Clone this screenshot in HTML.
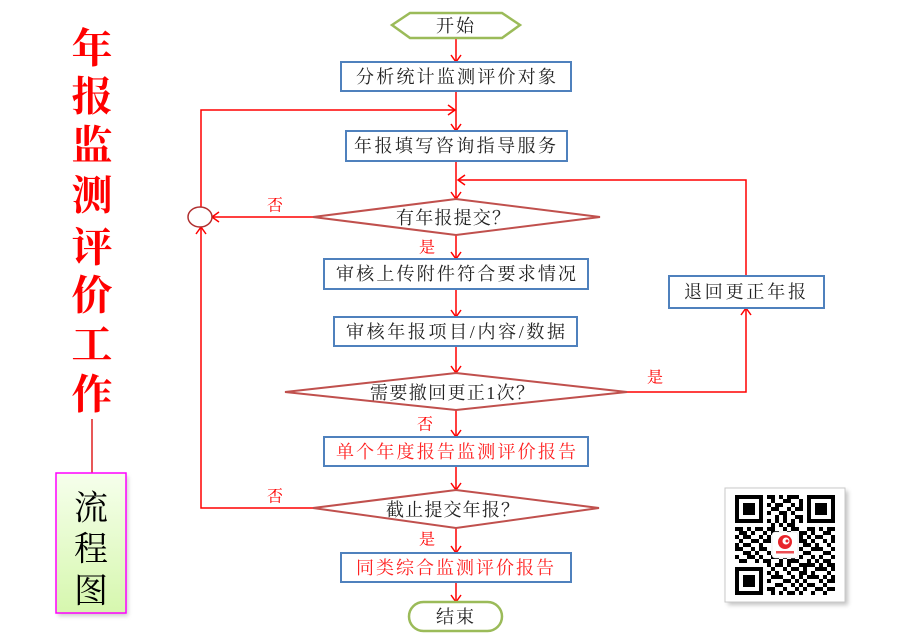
<!DOCTYPE html>
<html><head><meta charset="utf-8">
<style>
html,body{margin:0;padding:0;background:#fff;}
svg{display:block;}
.t{font-family:"Liberation Serif","Noto Serif CJK SC",serif;font-size:18px;fill:#222;}
.r{fill:#f22;}
.lb{font-family:"Liberation Serif","Noto Serif CJK SC",serif;font-size:16px;fill:#f00;}
.ttl{font-family:"Noto Serif CJK SC",serif;font-size:41px;font-weight:700;fill:#f00;}
.lc{fill:none;stroke:#f00;stroke-width:1.5;}
.bx{fill:#fff;stroke:#4f81bd;stroke-width:2;}
.dm{fill:#fff;stroke:#c0504d;stroke-width:2;}
.gr{fill:#fff;stroke:#9bbb59;stroke-width:2.5;}
</style></head>
<body>
<svg width="900" height="638" viewBox="0 0 900 638" xmlns="http://www.w3.org/2000/svg">
<defs>
<linearGradient id="g1" x1="0" y1="0" x2="0" y2="1">
<stop offset="0" stop-color="#f6ffec"/><stop offset="1" stop-color="#d6f7ae"/>
</linearGradient>
<filter id="sh" x="-20%" y="-20%" width="140%" height="140%"><feGaussianBlur stdDeviation="2"/></filter>
</defs>

<!-- Left title -->
<g text-anchor="middle" dominant-baseline="central" class="ttl">
<text x="92" y="45" class="ttl">年</text>
<text x="92" y="93" class="ttl">报</text>
<text x="92" y="142" class="ttl">监</text>
<text x="92" y="192" class="ttl">测</text>
<text x="92" y="244" class="ttl">评</text>
<text x="92" y="292" class="ttl">价</text>
<text x="92" y="341" class="ttl">工</text>
<text x="92" y="391" class="ttl">作</text>
</g>
<line x1="92" y1="419" x2="92" y2="473" stroke="#e02020" stroke-width="1.5"/>
<rect x="58" y="476" width="70" height="140" fill="#999" opacity="0.5" filter="url(#sh)"/>
<rect x="56" y="473" width="70" height="140" fill="url(#g1)" stroke="#ff00ff" stroke-width="1.5"/>
<g font-family="'Noto Serif CJK SC',serif" font-size="34" fill="#000" text-anchor="middle" dominant-baseline="central">
<text x="91" y="505">流</text>
<text x="91" y="546">程</text>
<text x="91" y="588">图</text>
</g>

<!-- Connectors -->
<g class="lc">
<line x1="456" y1="38" x2="456" y2="62"/><polyline points="451,55 456,62 461,55"/>
<line x1="456" y1="91" x2="456" y2="131"/><polyline points="451,124 456,131 461,124"/>
<polyline points="201,207 201,110 455,110"/><polyline points="448,105 455,110 448,115"/>
<line x1="456" y1="161" x2="456" y2="199"/><polyline points="451,192 456,199 461,192"/>
<polyline points="746,276 746,180 458,180"/><polyline points="465,175 458,180 465,185"/>
<line x1="313" y1="217" x2="212" y2="217"/><polyline points="219,212 212,217 219,222"/>
<polyline points="313,508 201,508 201,227"/><polyline points="196,234 201,227 206,234"/>
<line x1="456" y1="235" x2="456" y2="259"/><polyline points="451,252 456,259 461,252"/>
<line x1="456" y1="289" x2="456" y2="317"/><polyline points="451,310 456,317 461,310"/>
<line x1="456" y1="346" x2="456" y2="373"/><polyline points="451,366 456,373 461,366"/>
<polyline points="627,392 746,392 746,308"/><polyline points="741,315 746,308 751,315"/>
<line x1="456" y1="410" x2="456" y2="437"/><polyline points="451,430 456,437 461,430"/>
<line x1="456" y1="466" x2="456" y2="490"/><polyline points="451,483 456,490 461,483"/>
<line x1="456" y1="528" x2="456" y2="553"/><polyline points="451,546 456,553 461,546"/>
<line x1="456" y1="582" x2="456" y2="602"/><polyline points="451,595 456,602 461,595"/>
</g>
<ellipse cx="200" cy="217" rx="12" ry="10" fill="#fff" stroke="#b03030" stroke-width="1.5"/>

<!-- Shapes -->
<polygon class="gr" points="392,25 410,13 502,13 520,25 502,38 410,38"/>
<rect class="bx" x="341" y="62" width="230" height="29"/>
<rect class="bx" x="346" y="131" width="221" height="30"/>
<polygon class="dm" points="313,217 456,199 600,217 456,235"/>
<rect class="bx" x="324" y="259" width="264" height="30"/>
<rect class="bx" x="334" y="317" width="243" height="29"/>
<polygon class="dm" points="285,392 456,373 627,392 456,410"/>
<rect class="bx" x="669" y="276" width="155" height="32"/>
<rect class="bx" x="324" y="437" width="264" height="29"/>
<polygon class="dm" points="313,508 456,490 599,508 456,528"/>
<rect class="bx" x="341" y="553" width="230" height="29"/>
<rect class="gr" x="409" y="602" width="93" height="29" rx="14.5" ry="14.5"/>

<!-- Text -->
<g dominant-baseline="central">
<text class="t" x="436" y="26" textLength="38" lengthAdjust="spacing">开始</text>
<text class="t" x="356" y="77" textLength="200" lengthAdjust="spacing">分析统计监测评价对象</text>
<text class="t" x="354" y="146" textLength="202" lengthAdjust="spacing">年报填写咨询指导服务</text>
<text class="t" x="396" y="218" textLength="114" lengthAdjust="spacing">有年报提交？</text>
<text class="t" x="336" y="274" textLength="240" lengthAdjust="spacing">审核上传附件符合要求情况</text>
<text class="t" x="346" y="332" textLength="219" lengthAdjust="spacing">审核年报项目/内容/数据</text>
<text class="t" x="370" y="393" textLength="164" lengthAdjust="spacing">需要撤回更正1次？</text>
<text class="t" x="684" y="292" textLength="122" lengthAdjust="spacing">退回更正年报</text>
<text class="t r" x="336" y="452" textLength="240" lengthAdjust="spacing">单个年度报告监测评价报告</text>
<text class="t" x="386" y="510" textLength="133" lengthAdjust="spacing">截止提交年报？</text>
<text class="t r" x="356" y="568" textLength="198" lengthAdjust="spacing">同类综合监测评价报告</text>
<text class="t" x="436" y="617" textLength="38" lengthAdjust="spacing">结束</text>
</g>
<g text-anchor="middle" dominant-baseline="central" class="lb">
<text class="lb" x="275" y="206">否</text>
<text class="lb" x="427" y="248">是</text>
<text class="lb" x="655" y="378">是</text>
<text class="lb" x="425" y="425">否</text>
<text class="lb" x="275" y="497">否</text>
<text class="lb" x="427" y="540">是</text>
</g>

<!-- QR code -->
<rect x="728" y="491" width="120" height="114" fill="#888" opacity="0.5" filter="url(#sh)"/>
<rect x="725" y="488" width="120" height="114" fill="#fff" stroke="#c8c8c8" stroke-width="1"/>
<g transform="translate(735,495) scale(4)" fill="#000">
<rect x="0" y="0" width="7" height="7"/><rect x="1" y="1" width="5" height="5" fill="#fff"/><rect x="2" y="2" width="3" height="3"/>
<rect x="18" y="0" width="7" height="7"/><rect x="19" y="1" width="5" height="5" fill="#fff"/><rect x="20" y="2" width="3" height="3"/>
<rect x="0" y="18" width="7" height="7"/><rect x="1" y="19" width="5" height="5" fill="#fff"/><rect x="2" y="20" width="3" height="3"/>
<path d="M8 0h2v1h-2zM11 0h1v1h-1zM13 0h3v1h-3z
M9 1h1v1h-1zM12 1h2v1h-2zM16 1h1v1h-1z
M8 2h1v1h-1zM10 2h2v1h-2zM14 2h1v1h-1zM16 2h1v1h-1z
M9 3h2v1h-2zM13 3h1v1h-1zM15 3h2v1h-2z
M8 4h1v1h-1zM11 4h2v1h-2zM14 4h1v1h-1z
M10 5h1v1h-1zM12 5h1v1h-1zM15 5h2v1h-2z
M8 6h1v1h-1zM10 6h1v1h-1zM12 6h1v1h-1zM14 6h1v1h-1zM16 6h1v1h-1z
M9 7h1v1h-1zM11 7h1v1h-1zM13 7h2v1h-2z
M0 8h2v1h-2zM3 8h1v1h-1zM5 8h2v1h-2zM8 8h2v1h-2zM12 8h1v1h-1zM14 8h2v1h-2zM18 8h2v1h-2zM21 8h1v1h-1zM23 8h2v1h-2z
M1 9h2v1h-2zM4 9h1v1h-1zM7 9h1v1h-1zM9 9h2v1h-2zM13 9h1v1h-1zM16 9h2v1h-2zM19 9h1v1h-1zM22 9h2v1h-2z
M0 10h1v1h-1zM2 10h2v1h-2zM6 10h1v1h-1zM8 10h1v1h-1zM16 10h1v1h-1zM18 10h1v1h-1zM20 10h2v1h-2zM24 10h1v1h-1z
M1 11h1v1h-1zM4 11h2v1h-2zM7 11h2v1h-2zM16 11h2v1h-2zM19 11h1v1h-1zM22 11h1v1h-1zM24 11h1v1h-1z
M0 12h1v1h-1zM2 12h2v1h-2zM6 12h1v1h-1zM17 12h2v1h-2zM20 12h1v1h-1zM23 12h1v1h-1z
M0 13h2v1h-2zM4 13h1v1h-1zM6 13h2v1h-2zM16 13h1v1h-1zM19 13h3v1h-3zM24 13h1v1h-1z
M2 14h2v1h-2zM5 14h1v1h-1zM8 14h1v1h-1zM17 14h2v1h-2zM22 14h2v1h-2z
M0 15h1v1h-1zM3 15h2v1h-2zM6 15h1v1h-1zM9 15h2v1h-2zM12 15h1v1h-1zM14 15h1v1h-1zM16 15h1v1h-1zM19 15h1v1h-1zM21 15h1v1h-1zM24 15h1v1h-1z
M1 16h2v1h-2zM5 16h1v1h-1zM7 16h2v1h-2zM11 16h1v1h-1zM13 16h3v1h-3zM18 16h1v1h-1zM20 16h1v1h-1zM22 16h2v1h-2z
M8 17h1v1h-1zM10 17h2v1h-2zM13 17h1v1h-1zM16 17h4v1h-4zM21 17h1v1h-1zM23 17h2v1h-2z
M9 18h1v1h-1zM12 18h1v1h-1zM14 18h2v1h-2zM17 18h1v1h-1zM20 18h3v1h-3zM24 18h1v1h-1z
M8 19h1v1h-1zM10 19h1v1h-1zM13 19h1v1h-1zM16 19h2v1h-2zM19 19h1v1h-1zM23 19h1v1h-1z
M9 20h3v1h-3zM14 20h1v1h-1zM16 20h1v1h-1zM18 20h3v1h-3zM22 20h1v1h-1zM24 20h1v1h-1z
M8 21h1v1h-1zM12 21h2v1h-2zM15 21h1v1h-1zM17 21h1v1h-1zM21 21h1v1h-1zM23 21h2v1h-2z
M10 22h2v1h-2zM14 22h1v1h-1zM16 22h1v1h-1zM18 22h2v1h-2zM22 22h1v1h-1z
M8 23h2v1h-2zM12 23h1v1h-1zM15 23h1v1h-1zM17 23h1v1h-1zM20 23h2v1h-2zM23 23h2v1h-2z
M9 24h1v1h-1zM11 24h1v1h-1zM13 24h2v1h-2zM16 24h1v1h-1zM19 24h1v1h-1zM22 24h1v1h-1z"/>
</g>
<rect x="772" y="532" width="26" height="26" rx="3" fill="#fff" stroke="#ddd" stroke-width="0.5"/>
<circle cx="785" cy="542" r="7" fill="#e8242a"/>
<circle cx="786" cy="541" r="3.5" fill="#fff"/>
<circle cx="787" cy="541" r="1.5" fill="#e8242a"/>
<rect x="776" y="551" width="18" height="2.5" fill="#e8242a" opacity="0.8"/>
</svg>
</body></html>
